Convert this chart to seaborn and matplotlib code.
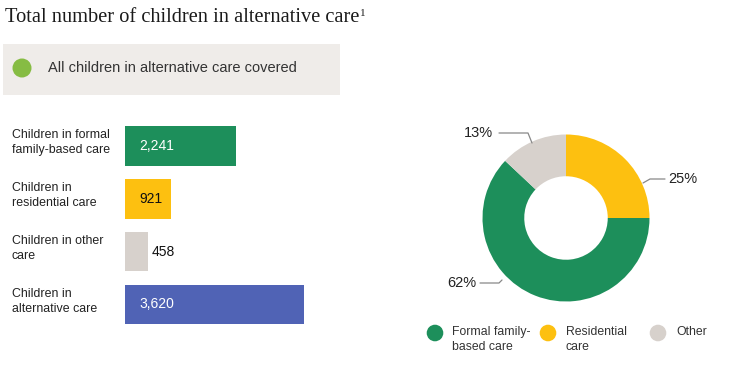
import matplotlib
matplotlib.use("Agg")
import matplotlib.pyplot as plt
import matplotlib.transforms as mtransforms
from matplotlib.patches import Rectangle, Circle
import seaborn as sns
import pandas as pd

sns.set_theme(style="white")
plt.rcParams['font.family'] = ['Liberation Sans', 'DejaVu Sans']

# ---- data ----
bar_categories = ["Children in formal\nfamily-based care", "Children in\nresidential care",
                  "Children in other\ncare", "Children in\nalternative care"]
bar_values = [2241, 921, 458, 3620]
bar_labels = ["2,241", "921", "458", "3,620"]
bar_colors = ["#1D8F5B", "#FDC010", "#D7D1CC", "#5063B5"]

donut_categories = ["Residential care", "Formal family-based care", "Other"]
donut_values = [25, 62, 13]
donut_labels = ["25%", "62%", "13%"]
donut_colors = ["#FDC010", "#1D8F5B", "#D7D1CC"]

legend_labels = ["Formal family-\nbased care", "Residential\ncare", "Other"]
legend_colors = ["#1D8F5B", "#FDC010", "#D7D1CC"]

title = "Total number of children in alternative care"
title_sup = "1"
box_text = "All children in alternative care covered"

W, H = 742, 372
fig = plt.figure(figsize=(W / 100, H / 100), dpi=100)
fig.patch.set_facecolor("white")

def fx(px):
    return px / W

def fy(py):
    return 1 - py / H

TXT = "#222222"

# title
t = fig.text(fx(5), fy(18), title, fontsize=14.7, family=['Liberation Serif', 'DejaVu Serif'],
             color="#1a1a1a", va="center", ha="left")
fig.canvas.draw()
bb = t.get_window_extent()
fig.text(bb.x1 / W + fx(1), fy(13), title_sup, fontsize=8,
         family=['Liberation Serif', 'DejaVu Serif'], color="#1a1a1a", va="center", ha="left")

# gray box
fig.patches.append(Rectangle((fx(3), fy(95)), fx(337), 51 / H, transform=fig.transFigure,
                             facecolor="#EFECE9", edgecolor="none", zorder=0))
fig.patches.append(Circle((22, H - 68), 9.5, transform=None, facecolor="#86BC43",
                          edgecolor="none", zorder=1))
fig.text(fx(48), fy(68), box_text, fontsize=10.5, color="#333333", va="center", ha="left")

# ---- bar chart ----
spacing = 52.9
top_center = 145.8
ax_top = top_center - spacing / 2
ax_bottom = ax_top + 4 * spacing
bar_left_px = 125
scale = 179 / 3620  # px per unit
ax_width_px = 200
ax = fig.add_axes([fx(bar_left_px), fy(ax_bottom), fx(ax_width_px), (ax_bottom - ax_top) / H])
df = pd.DataFrame({"category": bar_categories, "value": bar_values})
sns.barplot(data=df, x="value", y="category", hue="category", palette=bar_colors,
            legend=False, ax=ax, width=0.75, orient="h", saturation=1, linewidth=0)
ax.set_xlim(0, ax_width_px / scale)
ax.set_ylim(3.5, -0.5)
ax.axis("off")

blend = mtransforms.blended_transform_factory(fig.transFigure, ax.transData)
label_colors = ["white", "#111111", "#111111", "white"]
for i, (cat, val, lab) in enumerate(zip(bar_categories, bar_values, bar_labels)):
    ax.text(fx(12), i - 0.06, cat, transform=blend, fontsize=8.9, color=TXT,
            va="center", ha="left", linespacing=1.4)
    if val * scale > 30:
        ax.annotate(lab, xy=(0, i), xytext=(14, 0), textcoords="offset pixels",
                    fontsize=10, color=label_colors[i], va="center", ha="left")
    else:
        ax.annotate(lab, xy=(val, i), xytext=(4, 0), textcoords="offset pixels",
                    fontsize=10, color=label_colors[i], va="center", ha="left")

# ---- donut ----
cx, cy, r = 566, 218, 83.5
ax2 = fig.add_axes([fx(cx - r), fy(cy + r), fx(2 * r), 2 * r / H])
ax2.pie(donut_values, colors=donut_colors, startangle=90, counterclock=False,
        wedgeprops=dict(width=0.5, edgecolor="white", linewidth=0), radius=1)
ax2.set_xlim(-1, 1)
ax2.set_ylim(-1, 1)
ax2.set_aspect("auto")
ax2.axis("off")

def d(px, py):
    return ((px - cx) / r, (cy - py) / r)

line_kw = dict(color="#888888", lw=0.9, clip_on=False)
# 25%
pts = [d(643, 183), d(650, 179), d(665, 179)]
ax2.plot([p[0] for p in pts], [p[1] for p in pts], **line_kw)
ax2.text(*d(668, 179), donut_labels[0], fontsize=10.5, color=TXT, va="center", ha="left")
# 62%
pts = [d(502, 280), d(499, 283), d(480, 283)]
ax2.plot([p[0] for p in pts], [p[1] for p in pts], **line_kw)
ax2.text(*d(476, 283), donut_labels[1], fontsize=10.5, color=TXT, va="center", ha="right")
# 13%
pts = [d(532, 143), d(528, 133), d(499, 133)]
ax2.plot([p[0] for p in pts], [p[1] for p in pts], **line_kw)
ax2.text(*d(493, 133), donut_labels[2], fontsize=10.5, color=TXT, va="center", ha="right")

# legend
leg_pos = [(435, 452), (548, 566), (658, 676)]
for (cxp, tx), lab, col in zip(leg_pos, legend_labels, legend_colors):
    fig.patches.append(Circle((cxp, H - 333), 8.3, transform=None, facecolor=col,
                              edgecolor="none"))
    fig.text(fx(tx), fy(326), lab, fontsize=8.8, color="#333333", va="top", ha="left",
             linespacing=1.35)

fig.savefig("out.png", dpi=100, facecolor="white")
